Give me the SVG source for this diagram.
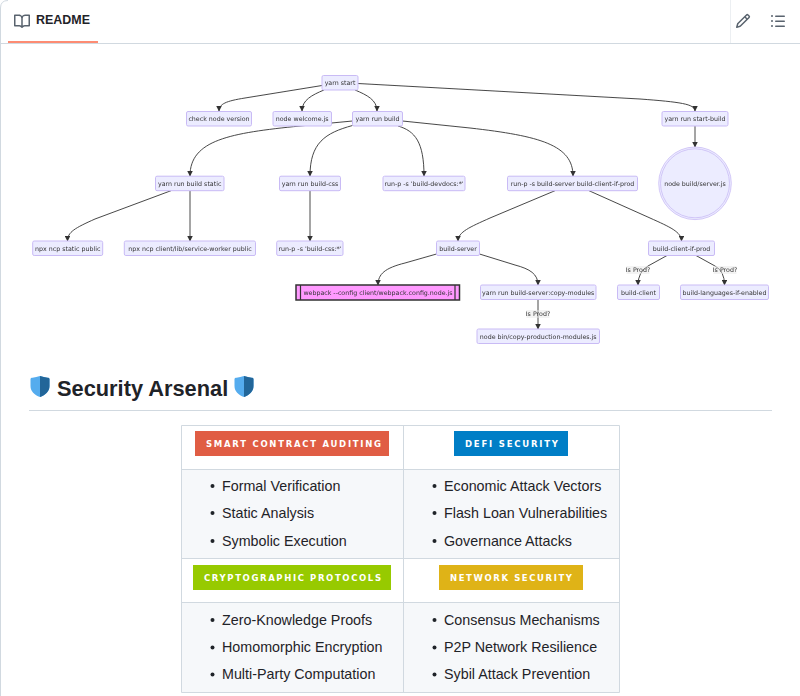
<svg xmlns="http://www.w3.org/2000/svg" xmlns:xlink="http://www.w3.org/1999/xlink" width="800" height="696" viewBox="0 0 800 696">
<style>
.n rect{fill:#ececff;stroke:#c9bbf5;stroke-width:1}
.n text,.lb{font-family:"DejaVu Sans",sans-serif;font-size:6.3px;fill:#333;text-anchor:middle}
.e{fill:none;stroke:#333;stroke-width:.9;marker-end:url(#ah)}
.lbg{fill:#e8e8e8;opacity:.5}
.g{stroke:#d1d9e0;stroke-width:1;fill:none}
.b{font-family:"DejaVu Sans",sans-serif;font-size:8.5px;font-weight:700;fill:#fff;text-anchor:start}
.t{font-family:"Liberation Sans",sans-serif;font-size:14.3px;fill:#1f2328}
.i{fill:#59636e}
</style>
<defs>
<marker id="ah" viewBox="0 0 10 10" refX="9" refY="5" markerUnits="userSpaceOnUse" markerWidth="5.6" markerHeight="5.6" orient="auto"><path d="M0 0L10 5L0 10Z" fill="#333"/></marker>
<filter id="soft" filterUnits="userSpaceOnUse" x="0" y="50" width="800" height="310"><feGaussianBlur stdDeviation="0.3"/></filter>
<g id="sh"><path d="M0 3C0 2 1 1.800 2 1.700C4.500 1.400 7 .8 9.500 0C12 .8 14.500 1.400 17 1.700C18 1.800 19 2 19 3V10C19 15.500 15 19 9.500 21C4 19 0 15.500 0 10Z" fill="#55acee"/><path d="M9.500 0C12 .8 14.500 1.400 17 1.700C18 1.800 19 2 19 3V10C19 15.500 15 19 9.500 21Z" fill="#226699"/></g>
</defs>
<rect width="800" height="696" fill="#fff"/>
<g id="page-chrome">
<path d="M.5 696V8Q.5 .5 8 .5" class="g"/>
<path d="M0 43.500H800" class="g"/>
<path d="M730.500 0V43" stroke="#eceff2" fill="none"/>
<rect x="8" y="41" width="90" height="2" fill="#fd8c73"/>
<path class="i" transform="translate(14,13.500)" d="M0 1.750A.750.750 0 0 1 .750 1h4.253c1.227 0 2.317.590 3 1.501A3.743 3.743 0 0 1 11.006 1h4.245a.750.750 0 0 1 .750.750v10.500a.750.750 0 0 1-.750.750h-4.507a2.250 2.250 0 0 0-1.591.659l-.622.621a.750.750 0 0 1-1.060 0l-.622-.621A2.250 2.250 0 0 0 5.258 13H.750a.750.750 0 0 1-.750-.750Zm7.251 10.324.004-5.073-.002-2.253A2.250 2.250 0 0 0 5.003 2.500H1.500v9h3.757a3.750 3.750 0 0 1 1.994.574ZM8.755 4.750l-.004 7.322a3.752 3.752 0 0 1 1.992-.572H14.500v-9h-3.495a2.250 2.250 0 0 0-2.250 2.250Z"/>
<text x="36" y="24" font-family="'Liberation Sans',sans-serif" font-size="13" font-weight="700" fill="#1f2328" textLength="54" lengthAdjust="spacingAndGlyphs">README</text>
<path class="i" transform="translate(735,13)" d="M11.013 1.427a1.750 1.750 0 0 1 2.474 0l1.086 1.086a1.750 1.750 0 0 1 0 2.474l-8.610 8.610c-.210.210-.470.364-.756.445l-3.251.930a.750.750 0 0 1-.927-.928l.929-3.250c.081-.286.235-.547.445-.758l8.610-8.610Zm.176 4.823L9.750 4.810l-6.286 6.287a.253.253 0 0 0-.064.108l-.558 1.953 1.953-.558a.253.253 0 0 0 .108-.064Zm1.238-3.763a.250.250 0 0 0-.354 0L10.811 3.750l1.439 1.440 1.263-1.263a.250.250 0 0 0 0-.354Z"/>
<path class="i" transform="translate(770,13)" d="M5.750 2.500h8.500a.750.750 0 0 1 0 1.500h-8.500a.750.750 0 0 1 0-1.500Zm0 5h8.500a.750.750 0 0 1 0 1.500h-8.500a.750.750 0 0 1 0-1.500Zm0 5h8.500a.750.750 0 0 1 0 1.500h-8.500a.750.750 0 0 1 0-1.500ZM2 14a1 1 0 1 1 0-2 1 1 0 0 1 0 2Zm1-6a1 1 0 1 1-2 0 1 1 0 0 1 2 0ZM2 4a1 1 0 1 1 0-2 1 1 0 0 1 0 2Z"/>
</g>
<g id="diagram" filter="url(#soft)">
<g id="connectors">
<path class="e" d="M322 85.500L245 98C226 101 219 104 219 111"/>
<path class="e" d="M324 90C312 95 302 100 302 111"/>
<path class="e" d="M355 90C367 95 377 100 377 111"/>
<path class="e" d="M358 83.500L640 99C680 102 695 104 695 111"/>
<path class="e" d="M352.500 121L300 126C230 133 190 140 190 176"/>
<path class="e" d="M352.500 125.500C325 133 310 143 310 176"/>
<path class="e" d="M398 126C415 131 424 142 424 176"/>
<path class="e" d="M402.500 121L470 128C540 136 573 145 573 176"/>
<path class="e" d="M695 126V147"/>
<path class="e" d="M171 190.700L95 219C75 228 67.500 232 67.500 241"/>
<path class="e" d="M190 191V241"/>
<path class="e" d="M310 191V241"/>
<path class="e" d="M555 190.700L490 218C470 227 458 232 458 241"/>
<path class="e" d="M589 190.700L650 218C670 227 681.500 232 681.500 241"/>
<path class="e" d="M436.500 254L405 263C385 268 378 274 378 285"/>
<path class="e" d="M479.500 254L515 265C530 269 538 274 538 285"/>
<path class="e" d="M538 299.500V329"/>
<path class="e" d="M667 255.500L648 266Q638 272 638 285"/>
<path class="e" d="M696 255.500L715 266Q724.500 271 724.500 285"/>
<rect class="lbg" x="626.500" y="266" width="23" height="8"/><text class="lb" x="638" y="272.300">Is Prod?</text>
<rect class="lbg" x="713.500" y="266" width="23" height="8"/><text class="lb" x="725" y="272.300">Is Prod?</text>
<rect class="lbg" x="526.500" y="310" width="23" height="8"/><text class="lb" x="538" y="316.300">Is Prod?</text>
</g>
<g id="n1" class="n"><rect x="322" y="75.500" width="36" height="14.500" rx="1.500"/><text x="340" y="85">yarn start</text></g>
<g id="n2" class="n"><rect x="186.500" y="111.500" width="65" height="14.500" rx="1.500"/><text x="219" y="121">check node version</text></g>
<g id="n3" class="n"><rect x="273" y="111.500" width="58.500" height="14.500" rx="1.500"/><text x="302.200" y="121">node welcome.js</text></g>
<g id="n4" class="n"><rect x="352.500" y="111.500" width="50" height="14.500" rx="1.500"/><text x="377.500" y="121">yarn run build</text></g>
<g id="n5" class="n"><rect x="662" y="111.500" width="66" height="14.500" rx="1.500"/><text x="695" y="121">yarn run start-build</text></g>
<g id="n6" class="n"><rect x="155.500" y="176.200" width="68.500" height="14.500" rx="1.500"/><text x="189.700" y="185.700">yarn run build static</text></g>
<g id="n7" class="n"><rect x="279.500" y="176.200" width="61" height="14.500" rx="1.500"/><text x="310" y="185.700">yarn run build-css</text></g>
<g id="n8" class="n"><rect x="383" y="176.200" width="82" height="14.500" rx="1.500"/><text x="424" y="185.700">run-p -s 'build-devdocs:*'</text></g>
<g id="n9" class="n"><rect x="507.500" y="176.200" width="130" height="14.500" rx="1.500"/><text x="572.500" y="185.700">run-p -s build-server build-client-if-prod</text></g>
<g id="n10" class="n"><circle cx="695" cy="183.300" r="36.300" fill="#ececff" stroke="#c9bbf5" stroke-width=".8"/><circle cx="695" cy="183.300" r="34.500" fill="#ececff" stroke="#c9bbf5" stroke-width=".8"/><text x="695" y="185.700">node build/server.js</text></g>
<g id="n11" class="n"><rect x="32.700" y="241" width="70" height="14.500" rx="1.500"/><text x="67.700" y="250.500">npx ncp static public</text></g>
<g id="n12" class="n"><rect x="124.300" y="241" width="131.200" height="14.500" rx="1.500"/><text x="190" y="250.500">npx ncp client/lib/service-worker public</text></g>
<g id="n13" class="n"><rect x="276.700" y="241" width="66.300" height="14.500" rx="1.500"/><text x="310" y="250.500">run-p -s 'build-css:*'</text></g>
<g id="n14" class="n"><rect x="436.500" y="241" width="43" height="14.500" rx="1.500"/><text x="458" y="250.500">build-server</text></g>
<g id="n15" class="n"><rect x="648.500" y="241" width="66" height="14.500" rx="1.500"/><text x="681.500" y="250.500">build-client-if-prod</text></g>
<g id="n16"><rect x="296" y="285" width="163.500" height="15" fill="#f9f" stroke="#333" stroke-width="1.500"/><path d="M300.500 285V300M455 285V300" stroke="#333" stroke-width="1.200"/><text x="378" y="295" font-family="'DejaVu Sans',sans-serif" font-size="6.300" fill="#333" text-anchor="middle">webpack --config client/webpack.config.node.js</text></g>
<g id="n17" class="n"><rect x="480.500" y="285" width="115.500" height="14.500" rx="1.500"/><text x="538.200" y="294.500">yarn run build-server:copy-modules</text></g>
<g id="n18" class="n"><rect x="617.500" y="285" width="42" height="14.500" rx="1.500"/><text x="638.500" y="294.500">build-client</text></g>
<g id="n19" class="n"><rect x="680.500" y="285" width="88" height="14.500" rx="1.500"/><text x="724.500" y="294.500">build-languages-if-enabled</text></g>
<g id="n20" class="n"><rect x="477" y="329" width="122.500" height="14.500" rx="1.500"/><text x="538.200" y="338.500">node bin/copy-production-modules.js</text></g>
</g>
<g id="heading">
<use xlink:href="#sh" href="#sh" x="30.500" y="376"/>
<text x="57" y="395.500" font-family="'Liberation Sans',sans-serif" font-size="21.800" font-weight="700" fill="#1f2328">Security Arsenal</text>
<use xlink:href="#sh" href="#sh" x="234.500" y="376"/>
<path d="M29 410.500H772" class="g"/>
</g>
<g id="table">
<rect x="181.500" y="469.500" width="438" height="89" fill="#f6f8fa"/>
<rect x="181.500" y="602.500" width="438" height="90" fill="#f6f8fa"/>
<path class="g" d="M181.500 425.500H619.500V692.500H181.500ZM181.500 469.500H619.500M181.500 558.500H619.500M181.500 602.500H619.500M403.500 425.500V692.500"/>
<rect x="195" y="431" width="194" height="25" fill="#e05d44"/><text class="b" x="206" y="446.800" textLength="175" lengthAdjust="spacing">SMART CONTRACT AUDITING</text>
<rect x="454" y="431" width="114" height="25" fill="#007ec6"/><text class="b" x="465" y="446.800" textLength="93" lengthAdjust="spacing">DEFI SECURITY</text>
<rect x="193" y="565" width="198" height="25" fill="#97ca00"/><text class="b" x="204" y="580.800" textLength="177" lengthAdjust="spacing">CRYPTOGRAPHIC PROTOCOLS</text>
<rect x="439" y="565" width="144" height="25" fill="#dfb317"/><text class="b" x="450" y="580.800" textLength="122" lengthAdjust="spacing">NETWORK SECURITY</text>
<g fill="#1f2328"><circle cx="212.500" cy="486" r="2"/><circle cx="212.500" cy="513" r="2"/><circle cx="212.500" cy="541" r="2"/><circle cx="434.500" cy="486" r="2"/><circle cx="434.500" cy="513" r="2"/><circle cx="434.500" cy="541" r="2"/><circle cx="212.500" cy="620" r="2"/><circle cx="212.500" cy="647.500" r="2"/><circle cx="212.500" cy="674.500" r="2"/><circle cx="434.500" cy="620" r="2"/><circle cx="434.500" cy="647.500" r="2"/><circle cx="434.500" cy="674.500" r="2"/></g>
<text class="t" x="222" y="491">Formal Verification</text>
<text class="t" x="222" y="518">Static Analysis</text>
<text class="t" x="222" y="546">Symbolic Execution</text>
<text class="t" x="444" y="491">Economic Attack Vectors</text>
<text class="t" x="444" y="518">Flash Loan Vulnerabilities</text>
<text class="t" x="444" y="546">Governance Attacks</text>
<text class="t" x="222" y="625">Zero-Knowledge Proofs</text>
<text class="t" x="222" y="652">Homomorphic Encryption</text>
<text class="t" x="222" y="679">Multi-Party Computation</text>
<text class="t" x="444" y="625">Consensus Mechanisms</text>
<text class="t" x="444" y="652">P2P Network Resilience</text>
<text class="t" x="444" y="679">Sybil Attack Prevention</text>
</g>
</svg>
